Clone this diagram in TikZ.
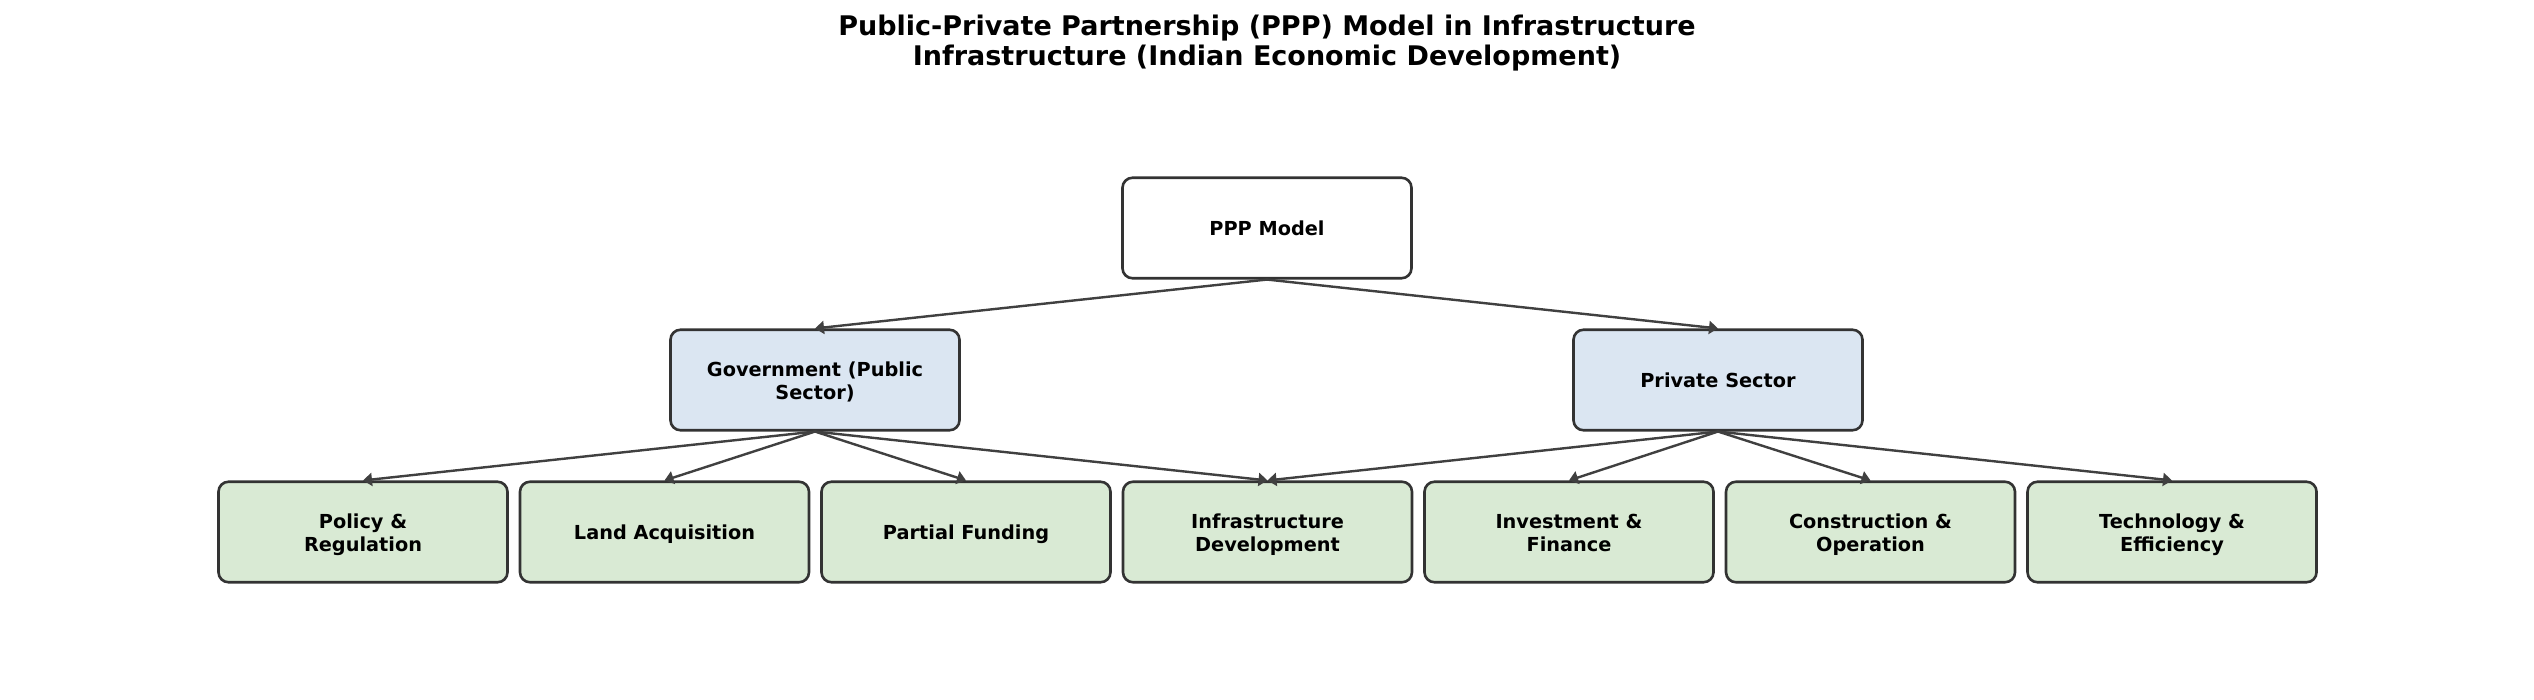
\documentclass[tikz,border=0pt]{standalone}
\usepackage{fontspec}
\setmainfont{DejaVu Sans}
\usetikzlibrary{arrows.meta}
\definecolor{boxline}{HTML}{333333}
\definecolor{arrowc}{HTML}{404040}
\definecolor{bluefill}{HTML}{DBE6F2}
\definecolor{greenfill}{HTML}{D9EAD4}
\newcommand\boxtxt[1]{\raisebox{-3pt}[\height][\depth]{\begin{tabular}{@{}c@{}}#1\end{tabular}}}
\tikzset{
  box/.style={draw=boxline, line width=2.6pt, rounded corners=10pt,
    minimum width=289pt, minimum height=100.5pt, inner sep=0pt,
    font=\fontsize{19.3}{23}\selectfont\bfseries},
  rootbox/.style={box, fill=white},
  midbox/.style={box, fill=bluefill},
  leafbox/.style={box, fill=greenfill},
  conn/.style={draw=arrowc, line width=2.4pt,
    -{Triangle[length=9pt,width=13pt]}},
  titletext/.style={align=center, font=\fontsize{27}{30.5}\selectfont\bfseries, inner sep=0pt}
}
\begin{document}
\begin{tikzpicture}[x=1pt,y=-1pt]
\useasboundingbox[fill=white] (0,0) rectangle (2534,699);
\node[titletext] (title) at (1267,43) {Public-Private Partnership (PPP) Model in Infrastructure\\Infrastructure (Indian Economic Development)};
\node[rootbox] (ppp) at (1267,228) {\boxtxt{PPP Model}};
\node[midbox] (gov) at (815,380) {\boxtxt{Government (Public\\Sector)}};
\node[midbox] (priv) at (1718,380) {\boxtxt{Private Sector}};
\node[leafbox] (pol) at (363,532) {\boxtxt{Policy \&\\Regulation}};
\node[leafbox] (land) at (664.5,532) {\boxtxt{Land Acquisition}};
\node[leafbox] (fund) at (966,532) {\boxtxt{Partial Funding}};
\node[leafbox] (infra) at (1267.5,532) {\boxtxt{Infrastructure\\Development}};
\node[leafbox] (inv) at (1569,532) {\boxtxt{Investment \&\\Finance}};
\node[leafbox] (cons) at (1870.5,532) {\boxtxt{Construction \&\\Operation}};
\node[leafbox] (tech) at (2172,532) {\boxtxt{Technology \&\\Efficiency}};
\draw[conn] (ppp.south) -- (gov.north);
\draw[conn] (ppp.south) -- (priv.north);
\draw[conn] (gov.south) -- (pol.north);
\draw[conn] (gov.south) -- (land.north);
\draw[conn] (gov.south) -- (fund.north);
\draw[conn] (gov.south) -- (infra.north);
\draw[conn] (priv.south) -- (infra.north);
\draw[conn] (priv.south) -- (inv.north);
\draw[conn] (priv.south) -- (cons.north);
\draw[conn] (priv.south) -- (tech.north);
\end{tikzpicture}
\end{document}
